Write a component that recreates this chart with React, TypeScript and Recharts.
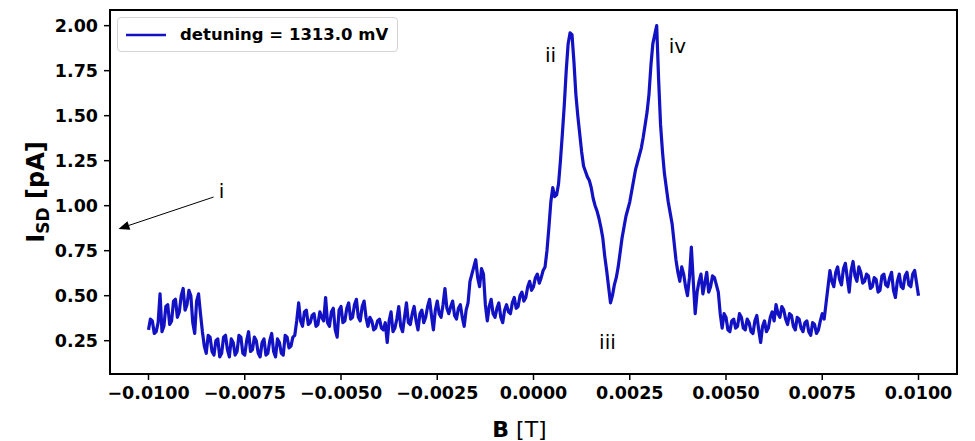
import React from 'react'
import { LineChart, Line, XAxis, YAxis, Legend, ReferenceArea, ReferenceDot, ReferenceLine } from 'recharts'

const FONT = '"DejaVu Sans", sans-serif'
const BLUE = '#1212c4'

// magnetic field sweep [T]
const bField = [
  -0.01000, -0.00995, -0.00990, -0.00985, -0.00980, -0.00975, -0.00970, -0.00965, -0.00960, -0.00955, -0.00950, -0.00945, -0.00940, -0.00935, -0.00930, -0.00925, -0.00920, -0.00915, -0.00910, -0.00905,
  -0.00900, -0.00895, -0.00890, -0.00885, -0.00880, -0.00875, -0.00870, -0.00865, -0.00860, -0.00855, -0.00850, -0.00845, -0.00840, -0.00835, -0.00830, -0.00825, -0.00820, -0.00815, -0.00810, -0.00805,
  -0.00800, -0.00795, -0.00790, -0.00785, -0.00780, -0.00775, -0.00770, -0.00765, -0.00760, -0.00755, -0.00750, -0.00745, -0.00740, -0.00735, -0.00730, -0.00725, -0.00720, -0.00715, -0.00710, -0.00705,
  -0.00700, -0.00695, -0.00690, -0.00685, -0.00680, -0.00675, -0.00670, -0.00665, -0.00660, -0.00655, -0.00650, -0.00645, -0.00640, -0.00635, -0.00630, -0.00625, -0.00620, -0.00615, -0.00610, -0.00605,
  -0.00600, -0.00595, -0.00590, -0.00585, -0.00580, -0.00575, -0.00570, -0.00565, -0.00560, -0.00555, -0.00550, -0.00545, -0.00540, -0.00535, -0.00530, -0.00525, -0.00520, -0.00515, -0.00510, -0.00505,
  -0.00500, -0.00495, -0.00490, -0.00485, -0.00480, -0.00475, -0.00470, -0.00465, -0.00460, -0.00455, -0.00450, -0.00445, -0.00440, -0.00435, -0.00430, -0.00425, -0.00420, -0.00415, -0.00410, -0.00405,
  -0.00400, -0.00395, -0.00390, -0.00385, -0.00380, -0.00375, -0.00370, -0.00365, -0.00360, -0.00355, -0.00350, -0.00345, -0.00340, -0.00335, -0.00330, -0.00325, -0.00320, -0.00315, -0.00310, -0.00305,
  -0.00300, -0.00295, -0.00290, -0.00285, -0.00280, -0.00275, -0.00270, -0.00265, -0.00260, -0.00255, -0.00250, -0.00245, -0.00240, -0.00235, -0.00230, -0.00225, -0.00220, -0.00215, -0.00210, -0.00205,
  -0.00200, -0.00195, -0.00190, -0.00185, -0.00180, -0.00175, -0.00170, -0.00165, -0.00160, -0.00155, -0.00150, -0.00145, -0.00140, -0.00135, -0.00130, -0.00125, -0.00120, -0.00115, -0.00110, -0.00105,
  -0.00100, -0.00095, -0.00090, -0.00085, -0.00080, -0.00075, -0.00070, -0.00065, -0.00060, -0.00055, -0.00050, -0.00045, -0.00040, -0.00035, -0.00030, -0.00025, -0.00020, -0.00015, -0.00010, -0.00005,
  0.00000, 0.00005, 0.00010, 0.00015, 0.00020, 0.00025, 0.00030, 0.00035, 0.00040, 0.00045, 0.00050, 0.00055, 0.00060, 0.00065, 0.00070, 0.00075, 0.00080, 0.00085, 0.00090, 0.00095,
  0.00100, 0.00105, 0.00110, 0.00115, 0.00120, 0.00125, 0.00130, 0.00135, 0.00140, 0.00145, 0.00150, 0.00155, 0.00160, 0.00165, 0.00170, 0.00175, 0.00180, 0.00185, 0.00190, 0.00195,
  0.00200, 0.00205, 0.00210, 0.00215, 0.00220, 0.00225, 0.00230, 0.00235, 0.00240, 0.00245, 0.00250, 0.00255, 0.00260, 0.00265, 0.00270, 0.00275, 0.00280, 0.00285, 0.00290, 0.00295,
  0.00300, 0.00305, 0.00310, 0.00315, 0.00320, 0.00325, 0.00330, 0.00335, 0.00340, 0.00345, 0.00350, 0.00355, 0.00360, 0.00365, 0.00370, 0.00375, 0.00380, 0.00385, 0.00390, 0.00395,
  0.00400, 0.00405, 0.00410, 0.00415, 0.00420, 0.00425, 0.00430, 0.00435, 0.00440, 0.00445, 0.00450, 0.00455, 0.00460, 0.00465, 0.00470, 0.00475, 0.00480, 0.00485, 0.00490, 0.00495,
  0.00500, 0.00505, 0.00510, 0.00515, 0.00520, 0.00525, 0.00530, 0.00535, 0.00540, 0.00545, 0.00550, 0.00555, 0.00560, 0.00565, 0.00570, 0.00575, 0.00580, 0.00585, 0.00590, 0.00595,
  0.00600, 0.00605, 0.00610, 0.00615, 0.00620, 0.00625, 0.00630, 0.00635, 0.00640, 0.00645, 0.00650, 0.00655, 0.00660, 0.00665, 0.00670, 0.00675, 0.00680, 0.00685, 0.00690, 0.00695,
  0.00700, 0.00705, 0.00710, 0.00715, 0.00720, 0.00725, 0.00730, 0.00735, 0.00740, 0.00745, 0.00750, 0.00755, 0.00760, 0.00765, 0.00770, 0.00775, 0.00780, 0.00785, 0.00790, 0.00795,
  0.00800, 0.00805, 0.00810, 0.00815, 0.00820, 0.00825, 0.00830, 0.00835, 0.00840, 0.00845, 0.00850, 0.00855, 0.00860, 0.00865, 0.00870, 0.00875, 0.00880, 0.00885, 0.00890, 0.00895,
  0.00900, 0.00905, 0.00910, 0.00915, 0.00920, 0.00925, 0.00930, 0.00935, 0.00940, 0.00945, 0.00950, 0.00955, 0.00960, 0.00965, 0.00970, 0.00975, 0.00980, 0.00985, 0.00990, 0.00995,
  0.01000,
]

// source-drain current [pA] (one row per mT)
const isd = [
  0.31, 0.37, 0.36, 0.29, 0.30, 0.35, 0.51, 0.30, 0.33, 0.44, 0.45, 0.34, 0.36, 0.47, 0.48, 0.38, 0.41, 0.50, 0.54, 0.42,
  0.45, 0.53, 0.50, 0.35, 0.29, 0.47, 0.51, 0.40, 0.30, 0.22, 0.18, 0.28, 0.27, 0.19, 0.17, 0.25, 0.26, 0.16, 0.18, 0.27,
  0.28, 0.20, 0.16, 0.26, 0.24, 0.17, 0.19, 0.28, 0.27, 0.18, 0.17, 0.25, 0.30, 0.19, 0.20, 0.27, 0.25, 0.18, 0.16, 0.24,
  0.26, 0.17, 0.18, 0.25, 0.29, 0.19, 0.16, 0.26, 0.24, 0.18, 0.17, 0.28, 0.27, 0.21, 0.22, 0.27, 0.28, 0.36, 0.46, 0.36,
  0.33, 0.41, 0.42, 0.34, 0.35, 0.39, 0.40, 0.33, 0.34, 0.41, 0.38, 0.36, 0.49, 0.35, 0.33, 0.41, 0.43, 0.31, 0.27, 0.42,
  0.44, 0.35, 0.36, 0.43, 0.46, 0.37, 0.38, 0.45, 0.48, 0.38, 0.36, 0.44, 0.47, 0.38, 0.33, 0.38, 0.36, 0.31, 0.32, 0.36,
  0.37, 0.32, 0.31, 0.35, 0.24, 0.36, 0.41, 0.30, 0.32, 0.37, 0.44, 0.33, 0.30, 0.38, 0.46, 0.35, 0.34, 0.40, 0.44, 0.36,
  0.31, 0.40, 0.42, 0.35, 0.38, 0.44, 0.48, 0.39, 0.31, 0.42, 0.47, 0.40, 0.38, 0.45, 0.54, 0.43, 0.40, 0.44, 0.47, 0.39,
  0.37, 0.43, 0.45, 0.38, 0.33, 0.42, 0.46, 0.58, 0.62, 0.66, 0.70, 0.60, 0.55, 0.65, 0.62, 0.45, 0.36, 0.44, 0.48, 0.40,
  0.38, 0.43, 0.46, 0.38, 0.35, 0.42, 0.45, 0.41, 0.40, 0.46, 0.49, 0.43, 0.44, 0.50, 0.52, 0.47, 0.49, 0.55, 0.58, 0.53,
  0.55, 0.60, 0.62, 0.57, 0.60, 0.64, 0.66, 0.75, 0.88, 1.02, 1.10, 1.05, 1.06, 1.12, 1.25, 1.40, 1.56, 1.75, 1.90, 1.96,
  1.95, 1.80, 1.62, 1.50, 1.40, 1.30, 1.22, 1.19, 1.16, 1.14, 1.10, 1.04, 1.00, 0.97, 0.93, 0.88, 0.82, 0.72, 0.64, 0.55,
  0.46, 0.50, 0.56, 0.60, 0.66, 0.74, 0.82, 0.88, 0.94, 0.98, 1.02, 1.08, 1.14, 1.20, 1.24, 1.28, 1.32, 1.38, 1.45, 1.52,
  1.62, 1.78, 1.90, 1.95, 2.00, 1.70, 1.45, 1.30, 1.18, 1.10, 1.02, 0.96, 0.90, 0.80, 0.70, 0.63, 0.58, 0.66, 0.62, 0.55,
  0.50, 0.60, 0.77, 0.58, 0.40, 0.52, 0.58, 0.62, 0.51, 0.57, 0.63, 0.52, 0.55, 0.61, 0.60, 0.56, 0.52, 0.40, 0.32, 0.40,
  0.38, 0.31, 0.30, 0.36, 0.37, 0.32, 0.33, 0.40, 0.38, 0.32, 0.31, 0.37, 0.35, 0.30, 0.29, 0.36, 0.39, 0.31, 0.24, 0.33,
  0.36, 0.30, 0.32, 0.38, 0.41, 0.36, 0.45, 0.40, 0.38, 0.44, 0.42, 0.37, 0.34, 0.40, 0.39, 0.33, 0.31, 0.38, 0.37, 0.32,
  0.30, 0.35, 0.36, 0.30, 0.28, 0.35, 0.34, 0.29, 0.31, 0.36, 0.40, 0.37, 0.46, 0.55, 0.64, 0.58, 0.55, 0.63, 0.66, 0.59,
  0.56, 0.65, 0.68, 0.60, 0.52, 0.64, 0.69, 0.61, 0.58, 0.66, 0.63, 0.57, 0.58, 0.62, 0.61, 0.54, 0.55, 0.60, 0.59, 0.52,
  0.53, 0.61, 0.62, 0.56, 0.55, 0.60, 0.63, 0.53, 0.49, 0.58, 0.62, 0.55, 0.54, 0.61, 0.63, 0.56, 0.55, 0.62, 0.64, 0.57,
  0.50,
]

const xTicks = [-0.01, -0.0075, -0.005, -0.0025, 0, 0.0025, 0.005, 0.0075, 0.01]
const yTicks = [0.25, 0.5, 0.75, 1.0, 1.25, 1.5, 1.75, 2.0]
const xDomain = [-0.011, 0.011]
const yDomain = [0.065, 2.087]

// peak labels (text centres, data coords)
const markLabels = ['i', 'ii', 'iii', 'iv']
const markB = [-0.0081, 0.00044, 0.00192, 0.00374]
const markI = [1.082, 1.837, 0.243, 1.887]

// arrow from label i towards the axis
const arrowFrom = { x: -0.00831, y: 1.048 }
const arrowTo = { x: -0.01078, y: 0.871 }

const data = bField.map((b, i) => ({ b, isd: isd[i] }))

const fmtX = (v: number) => v.toFixed(4).replace('-', '\u2212')
const fmtY = (v: number) => v.toFixed(2)

const tickStyle = { fontFamily: FONT, fontSize: 17.5, fontWeight: 'bold', fill: '#000' }

const Arrow = (p: any) => {
  const { x1, y1, x2, y2 } = p
  const dx = x2 - x1
  const dy = y2 - y1
  const len = Math.sqrt(dx * dx + dy * dy)
  const ux = dx / len
  const uy = dy / len
  const L = 11
  const W = 4.5
  const bx = x2 - ux * L
  const by = y2 - uy * L
  return (
    <g>
      <line x1={x1} y1={y1} x2={bx} y2={by} stroke="#000" strokeWidth={1} />
      <polygon
        points={`${x2},${y2} ${bx - uy * W},${by + ux * W} ${bx + uy * W},${by - ux * W}`}
        fill="#000"
      />
    </g>
  )
}

const YLabel = ({ viewBox }: any) => {
  const x = viewBox.x + 44
  const y = viewBox.y + viewBox.height / 2
  return (
    <text
      x={x}
      y={y}
      transform={`rotate(-90, ${x}, ${y})`}
      textAnchor="middle"
      fontFamily={FONT}
      fontWeight="bold"
      fontSize={24}
      fill="#000"
    >
      I<tspan fontSize={17} dy={5}>SD</tspan>
      <tspan dy={-5}> [pA]</tspan>
    </text>
  )
}

const XLabel = ({ viewBox }: any) => {
  const x = viewBox.x + viewBox.width / 2 - 14
  const y = viewBox.y + 63
  return (
    <text x={x} y={y} textAnchor="middle" fontFamily={FONT} fontSize={22} fill="#000">
      <tspan fontWeight="bold">B</tspan>
      <tspan> [T]</tspan>
    </text>
  )
}

const LegendBox = () => (
  <div
    style={{
      width: 281,
      height: 35,
      boxSizing: 'border-box',
      border: '1px solid #d4d4d4',
      borderRadius: 4,
      background: 'rgba(255,255,255,0.85)',
      display: 'flex',
      alignItems: 'center',
      paddingLeft: 8,
      fontFamily: FONT,
      fontWeight: 'bold',
      fontSize: 16.5,
      color: '#000',
    }}
  >
    <svg width={40} height={6}>
      <line x1={0} y1={3} x2={40} y2={3} stroke={BLUE} strokeWidth={2.5} />
    </svg>
    <span style={{ marginLeft: 14, whiteSpace: 'nowrap' }}>detuning = 1313.0 mV</span>
  </div>
)

export default function App() {
  return (
    <div style={{ position: 'absolute', left: 0, top: 0, background: '#fff' }}>
      <LineChart width={975} height={441} data={data} margin={{ top: 10, right: 18, bottom: 0, left: 0 }}>
        <XAxis
          type="number"
          dataKey="b"
          domain={xDomain}
          ticks={xTicks}
          tickFormatter={fmtX}
          allowDataOverflow
          height={67}
          axisLine={false}
          tickLine={{ stroke: '#000', strokeWidth: 1.5 }}
          tickSize={6}
          tickMargin={7}
          tick={tickStyle}
          label={<XLabel />}
        />
        <YAxis
          type="number"
          domain={yDomain}
          ticks={yTicks}
          tickFormatter={fmtY}
          allowDataOverflow
          width={110}
          axisLine={false}
          tickLine={{ stroke: '#000', strokeWidth: 1.5 }}
          tickSize={6}
          tickMargin={6}
          tick={tickStyle}
          label={<YLabel />}
        />
        <Legend
          layout="vertical"
          align="center"
          verticalAlign="middle"
          content={<LegendBox />}
          wrapperStyle={{ left: 117, top: 17, width: 'auto' }}
        />
        <Line
          type="linear"
          dataKey="isd"
          name="detuning = 1313.0 mV"
          stroke={BLUE}
          strokeWidth={3.2}
          strokeLinejoin="round"
          dot={false}
          isAnimationActive={false}
        />
        <ReferenceLine segment={[arrowFrom, arrowTo]} shape={Arrow} ifOverflow="visible" />
        {markLabels.map((t, i) => (
          <ReferenceDot
            key={t}
            x={markB[i]}
            y={markI[i]}
            r={0}
            stroke="none"
            fill="none"
            ifOverflow="visible"
            label={{ value: t, position: 'center', fill: '#000', fontSize: 20, fontFamily: FONT }}
          />
        ))}
        <ReferenceArea
          x1={xDomain[0]}
          x2={xDomain[1]}
          y1={yDomain[0]}
          y2={yDomain[1]}
          fill="none"
          fillOpacity={0}
          stroke="#000"
          strokeWidth={2}
          ifOverflow="visible"
        />
      </LineChart>
    </div>
  )
}
